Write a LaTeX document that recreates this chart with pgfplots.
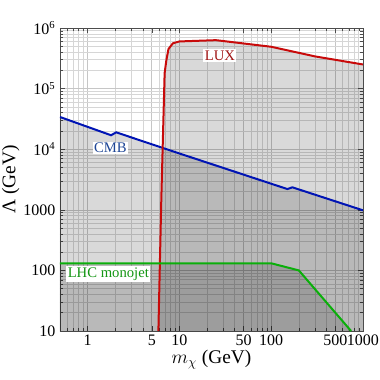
\documentclass[border=0pt]{standalone}
\usepackage{fontspec}
\setmainfont{Liberation Serif}
\usepackage{pgfplots}
\pgfplotsset{compat=1.18}

\definecolor{luxline}{RGB}{200,10,10}
\definecolor{luxtext}{RGB}{160,20,20}
\definecolor{cmbline}{RGB}{0,20,180}
\definecolor{cmbtext}{RGB}{30,70,150}
\definecolor{lhcline}{RGB}{10,175,10}
\definecolor{lhctext}{RGB}{20,150,20}

\begin{document}
\begin{tikzpicture}
% page = 380x380 px at 0.75pt/px, axis box at (60..363, 28..331) px
\path[use as bounding box] (-45pt,-36.75pt) rectangle (240pt,248.25pt);
\begin{axis}[
  at={(0,0)}, anchor=south west,
  scale only axis, width=227.25pt, height=227.25pt,
  xmode=log, ymode=log,
  xmin=0.5, xmax=1000, ymin=10, ymax=1e6,
  xtick={1,5,10,50,100,500,1000},
  xticklabels={1,5,10,50,100,500,1000},
  minor xtick={0.6,0.7,0.8,0.9,2,3,4,6,7,8,9,20,30,40,60,70,80,90,200,300,400,600,700,800,900},
  ytick={10,100,1000,1e4,1e5,1e6},
  yticklabels={10,100,1000,10\textsuperscript{4},10\textsuperscript{5},10\textsuperscript{6}},
  minor ytick={20,30,40,50,60,70,80,90,200,300,400,500,600,700,800,900,
    2000,3000,4000,5000,6000,7000,8000,9000,2e4,3e4,4e4,5e4,6e4,7e4,8e4,9e4,
    2e5,3e5,4e5,5e5,6e5,7e5,8e5,9e5},
  grid=both,
  major grid style={gray!45, line width=0.45pt},
  minor grid style={gray!32, line width=0.45pt},
  axis line style={gray!60!black, line width=0.5pt},
  tick style={gray!60!black, line width=0.4pt},
  tick align=inside,
  major tick length=4pt, minor tick length=2pt,
  tick label style={font=\fontsize{12}{14}\selectfont, text=black},
  xticklabel style={inner sep=1pt, yshift=-2pt},
  xlabel={$m_\chi$ (GeV)},
  ylabel={Λ (GeV)},
  every axis x label/.style={at={(rel axis cs:0.5,0)}, yshift=-21.5pt, anchor=center,
    inner sep=0pt, font=\fontsize{14.5}{16}\selectfont},
  every axis y label/.style={at={(rel axis cs:0,0.5)}, xshift=-37pt, rotate=90, anchor=center,
    font=\fontsize{14.5}{16}\selectfont},
]
% shaded regions
\addplot[draw=none, fill=black, fill opacity=0.15] coordinates {
  (0.5,3.4e4) (1.8,1.7e4) (2.05,1.9e4) (4,1.35e4) (10,8.5e3)
  (150,2.2e3) (170,2.35e3) (1000,980) (1000,10) (0.5,10)};
\addplot[draw=none, fill=black, fill opacity=0.15] coordinates {
  (5.9,10) (6.35,1500) (6.9,1.8e5) (7.2,2.9e5) (7.6,4.5e5) (8.5,5.6e5)
  (10,6.0e5) (25,6.3e5) (100,4.9e5) (300,3.4e5) (1000,2.5e5) (1000,10)};
\addplot[draw=none, fill=black, fill opacity=0.15] coordinates {
  (0.5,131) (100,131) (200,100) (742,10) (0.5,10)};
% boundaries
\addplot[cmbline, line width=1.5pt] coordinates {
  (0.5,3.4e4) (1.8,1.7e4) (2.05,1.9e4) (4,1.35e4) (10,8.5e3)
  (150,2.2e3) (170,2.35e3) (1000,980)};
\addplot[luxline, line width=1.5pt] coordinates {
  (5.9,10) (6.35,1500) (6.9,1.8e5) (7.2,2.9e5) (7.6,4.5e5) (8.5,5.6e5)
  (10,6.0e5) (25,6.3e5) (100,4.9e5) (300,3.4e5) (1000,2.5e5)};
\addplot[lhcline, line width=1.5pt] coordinates {
  (0.5,131) (100,131) (200,100) (742,10)};
% labels
\node[fill=white, inner sep=1pt, text=luxtext, font=\fontsize{11}{13}\selectfont] at (axis cs:27.6,3.5e5) {LUX};
\node[fill=white, inner sep=1pt, text=cmbtext, font=\fontsize{11}{13}\selectfont] at (axis cs:1.77,1.05e4) {CMB};
\node[fill=white, inner sep=1pt, text=lhctext, font=\fontsize{11}{13}\selectfont] at (axis cs:1.68,87) {LHC monojet};
\end{axis}
\end{tikzpicture}
\end{document}
